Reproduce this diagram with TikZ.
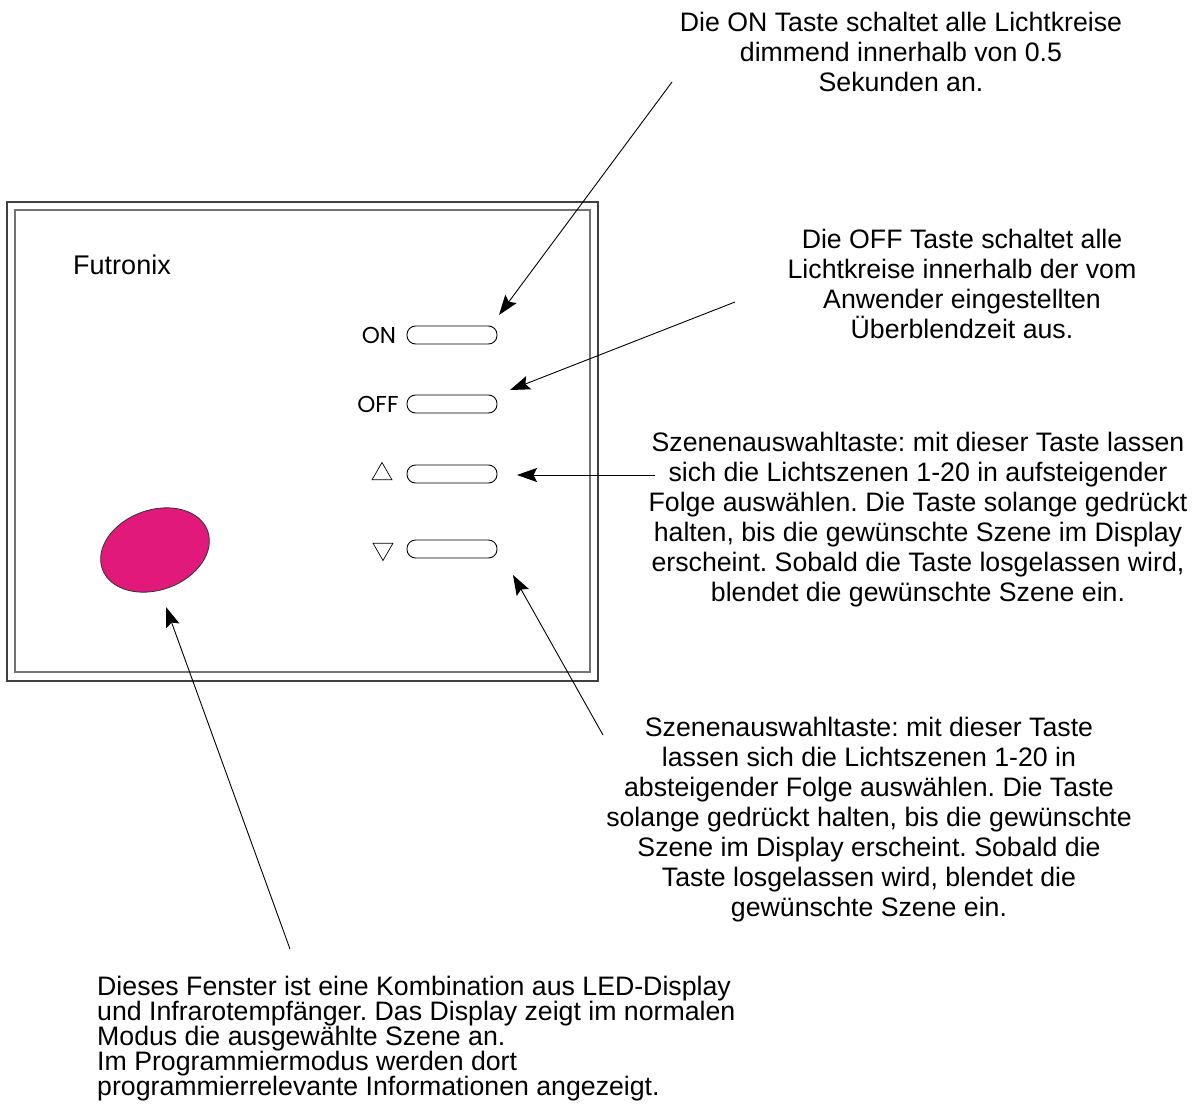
\documentclass[tikz,border=0pt]{standalone}
\usepackage{fontspec}
\setmainfont{Liberation Sans}
\newfontfamily\tastenfont{Poppins}
\usetikzlibrary{arrows.meta,shapes.geometric}
\definecolor{fenster}{RGB}{224,25,122}
\frenchspacing

\begin{document}
\begin{tikzpicture}[x=1pt,y=-1pt,
  taste/.style={draw,rounded corners=8.5pt,minimum width=90pt,minimum height=18pt,inner sep=0pt,line width=0.9pt},
  tname/.style={font=\tastenfont\fontsize{23}{25}\selectfont,inner sep=0pt},
  dreieck/.style={draw,regular polygon,regular polygon sides=3,minimum size=23pt,inner sep=0pt,line width=0.7pt},
  info/.style={align=center,font=\fontsize{26.7}{30}\selectfont,inner sep=0pt},
  pfeil/.style={-{Stealth[length=20pt,width=14pt,inset=3.5pt]},line width=0.9pt}]
\useasboundingbox (0,0) rectangle (1201,1108);
\draw[line width=1.2pt,black!75] (7,202) rectangle (598,681);
\draw[line width=1.2pt,black!55] (15,210) rectangle (590,672);
\node[font=\fontsize{27}{30}\selectfont] (logo) at (122,265) {Futronix};

\node[taste] (on) at (452,335) {};
\node[taste] (off) at (452,404) {};
\node[taste] (auf) at (452,474) {};
\node[taste] (ab) at (452,549) {};
\node[tname] (onlabel) at (379,335) {ON};
\node[tname] (offlabel) at (378,404) {OFF};
\node[dreieck] (aufsym) at (382,474) {};
\node[dreieck,shape border rotate=180] (absym) at (383,549) {};

\node[draw=black!80,fill=fenster,ellipse,minimum width=112pt,minimum height=80pt,rotate=20,line width=0.8pt] (display) at (155,550) {};

\node[info] (oninfo) at (901,52) {Die ON Taste schaltet alle Lichtkreise\\dimmend innerhalb von 0.5\\Sekunden an.};
\node[info] (offinfo) at (962,284) {Die OFF Taste schaltet alle\\Lichtkreise innerhalb der vom\\Anwender eingestellten\\Überblendzeit aus.};
\node[info] (aufinfo) at (918,520) {Szenenauswahltaste: mit dieser Taste lassen\\sich die Lichtszenen 1-20 in aufsteigender\\Folge auswählen. Die Taste solange gedrückt\\halten, bis die gewünschte Szene im Display\\erscheint. Sobald die Taste losgelassen wird,\\blendet die gewünschte Szene ein.};
\node[info] (abinfo) at (869,820) {Szenenauswahltaste: mit dieser Taste\\lassen sich die Lichtszenen 1-20 in\\absteigender Folge auswählen. Die Taste\\solange gedrückt halten, bis die gewünschte\\Szene im Display erscheint. Sobald die\\Taste losgelassen wird, blendet die\\gewünschte Szene ein.};
\node[info,align=left,anchor=west,font=\fontsize{26.7}{25}\selectfont] (dispinfo) at (97,1039) {Dieses Fenster ist eine Kombination aus LED-Display\\und Infrarotempfänger. Das Display zeigt im normalen\\Modus die ausgewählte Szene an.\\Im Programmiermodus werden dort\\programmierrelevante Informationen angezeigt.};

\coordinate (onstart) at (672,82);
\coordinate (onspitze) at (499,315);
\coordinate (offstart) at (735,302);
\coordinate (offspitze) at (510,390);
\coordinate (aufstart) at (655,475);
\coordinate (aufspitze) at (517,475);
\coordinate (abstart) at (603,735);
\coordinate (abspitze) at (513,575);
\coordinate (dispstart) at (290,949);
\coordinate (dispspitze) at (166,607);
\draw[pfeil] (onstart) -- (onspitze);
\draw[pfeil] (offstart) -- (offspitze);
\draw[pfeil] (aufstart) -- (aufspitze);
\draw[pfeil] (abstart) -- (abspitze);
\draw[pfeil] (dispstart) -- (dispspitze);
\end{tikzpicture}
\end{document}
